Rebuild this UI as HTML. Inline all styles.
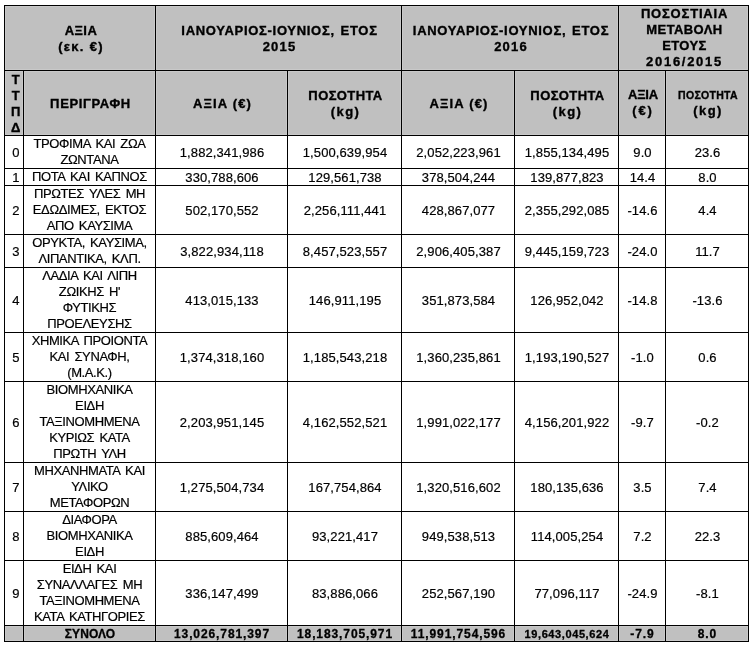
<!DOCTYPE html><html><head><meta charset="utf-8"><style>
*{margin:0;padding:0;box-sizing:border-box}
html,body{width:754px;height:647px;background:#fff;overflow:hidden}
body{position:relative;-webkit-font-smoothing:antialiased;font-family:"Liberation Sans",sans-serif;color:#000}
.c{position:absolute;will-change:transform;border:1px solid #000;display:flex;align-items:center;justify-content:center;text-align:center;line-height:16px;white-space:nowrap;overflow:hidden}
.hb{font-weight:bold;font-size:13px;letter-spacing:0.4px;-webkit-text-stroke:0.35px #000;padding-top:2px;padding-left:2px}
.bd{font-size:13px;-webkit-text-stroke:0.2px #000}
.nm{letter-spacing:0.1px;padding-top:2px;padding-left:1px}
.gr{letter-spacing:-0.4px;word-spacing:2px}
.c0{padding-left:4px}
.tb{font-weight:bold;font-size:12px;letter-spacing:0.9px;line-height:14px;-webkit-text-stroke:0.3px #000;padding-left:1px}
.ian{letter-spacing:0.7px;word-spacing:1.5px}
.yr{letter-spacing:1.2px}
.yr2{letter-spacing:1.7px}
.pct{letter-spacing:0.8px}
.ax{letter-spacing:1.1px;word-spacing:0px}
.p1{letter-spacing:1.3px;word-spacing:0px}
.kg{letter-spacing:1.4px}
.eu{letter-spacing:1.8px}
.axs{letter-spacing:-0.2px}
.per{letter-spacing:0.65px}
.sm{font-size:10.5px;letter-spacing:0.3px}
.tsm{font-size:11px;letter-spacing:0.6px}
</style></head><body>
<div class="c hb" style="left:4px;top:5px;width:152px;height:66px;background:#c0c0c0;box-shadow:inset 0 0 0 1px #c9c9c9;"><div>ΑΞΙΑ<br><span class="p1">(εκ. €)</span></div></div>
<div class="c hb" style="left:155px;top:5px;width:247px;height:66px;background:#c0c0c0;box-shadow:inset 0 0 0 1px #c9c9c9;"><div><span class="ian">ΙΑΝΟΥΑΡΙΟΣ-ΙΟΥΝΙΟΣ, ΕΤΟΣ</span><br><span class="yr">2015</span></div></div>
<div class="c hb" style="left:401px;top:5px;width:218px;height:66px;background:#c0c0c0;box-shadow:inset 0 0 0 1px #c9c9c9;"><div><span class="ian">ΙΑΝΟΥΑΡΙΟΣ-ΙΟΥΝΙΟΣ, ΕΤΟΣ</span><br><span class="yr">2016</span></div></div>
<div class="c hb" style="left:618px;top:5px;width:131px;height:66px;background:#c0c0c0;box-shadow:inset 0 0 0 1px #c9c9c9;padding-top:0;line-height:15.8px"><div><span class="pct">ΠΟΣΟΣΤΙΑΙΑ</span><br>ΜΕΤΑΒΟΛΗ<br>ΕΤΟΥΣ<br><span class="yr2">2016/2015</span></div></div>
<div class="c hb c0" style="left:4px;top:70px;width:20px;height:66px;background:#c0c0c0;box-shadow:inset 0 0 0 1px #c9c9c9;"><div>Τ<br>Τ<br>Π<br>Δ</div></div>
<div class="c hb" style="left:23px;top:70px;width:133px;height:66px;background:#c0c0c0;box-shadow:inset 0 0 0 1px #c9c9c9;"><div><span class="per">ΠΕΡΙΓΡΑΦΗ</span></div></div>
<div class="c hb" style="left:155px;top:70px;width:133px;height:66px;background:#c0c0c0;box-shadow:inset 0 0 0 1px #c9c9c9;"><div><span class="ax">ΑΞΙΑ (€)</span></div></div>
<div class="c hb" style="left:401px;top:70px;width:114px;height:66px;background:#c0c0c0;box-shadow:inset 0 0 0 1px #c9c9c9;"><div><span class="ax">ΑΞΙΑ (€)</span></div></div>
<div class="c hb" style="left:287px;top:70px;width:115px;height:66px;background:#c0c0c0;box-shadow:inset 0 0 0 1px #c9c9c9;line-height:15.5px;padding-top:1px"><div>ΠΟΣΟΤΗΤΑ<br><span class="kg">(kg)</span></div></div>
<div class="c hb" style="left:514px;top:70px;width:105px;height:66px;background:#c0c0c0;box-shadow:inset 0 0 0 1px #c9c9c9;line-height:15.5px;padding-top:1px"><div>ΠΟΣΟΤΗΤΑ<br><span class="kg">(kg)</span></div></div>
<div class="c hb" style="left:618px;top:70px;width:48px;height:66px;background:#c0c0c0;box-shadow:inset 0 0 0 1px #c9c9c9;padding-top:0"><div><span class="axs">ΑΞΙΑ</span><br><span class="eu">(€)</span></div></div>
<div class="c hb" style="left:665px;top:70px;width:84px;height:66px;background:#c0c0c0;box-shadow:inset 0 0 0 1px #c9c9c9;padding-top:0;line-height:15.5px;padding-bottom:1px"><div><span class="sm">ΠΟΣΟΤΗΤΑ</span><br><span class="kg">(kg)</span></div></div>
<div class="c bd c0 nm" style="left:4px;top:135px;width:20px;height:34px;"><div>0</div></div>
<div class="c bd gr" style="left:23px;top:135px;width:133px;height:34px;"><div>ΤΡΟΦΙΜΑ ΚΑΙ ΖΩΑ<br>ΖΩΝΤΑΝΑ</div></div>
<div class="c bd nm" style="left:155px;top:135px;width:133px;height:34px;"><div>1,882,341,986</div></div>
<div class="c bd nm" style="left:287px;top:135px;width:115px;height:34px;"><div>1,500,639,954</div></div>
<div class="c bd nm" style="left:401px;top:135px;width:114px;height:34px;"><div>2,052,223,961</div></div>
<div class="c bd nm" style="left:514px;top:135px;width:105px;height:34px;"><div>1,855,134,495</div></div>
<div class="c bd nm" style="left:618px;top:135px;width:48px;height:34px;"><div>9.0</div></div>
<div class="c bd nm" style="left:665px;top:135px;width:84px;height:34px;"><div>23.6</div></div>
<div class="c bd c0 nm" style="left:4px;top:168px;width:20px;height:18px;"><div>1</div></div>
<div class="c bd gr" style="left:23px;top:168px;width:133px;height:18px;"><div>ΠΟΤΑ ΚΑΙ ΚΑΠΝΟΣ</div></div>
<div class="c bd nm" style="left:155px;top:168px;width:133px;height:18px;"><div>330,788,606</div></div>
<div class="c bd nm" style="left:287px;top:168px;width:115px;height:18px;"><div>129,561,738</div></div>
<div class="c bd nm" style="left:401px;top:168px;width:114px;height:18px;"><div>378,504,244</div></div>
<div class="c bd nm" style="left:514px;top:168px;width:105px;height:18px;"><div>139,877,823</div></div>
<div class="c bd nm" style="left:618px;top:168px;width:48px;height:18px;"><div>14.4</div></div>
<div class="c bd nm" style="left:665px;top:168px;width:84px;height:18px;"><div>8.0</div></div>
<div class="c bd c0 nm" style="left:4px;top:185px;width:20px;height:50px;"><div>2</div></div>
<div class="c bd gr" style="left:23px;top:185px;width:133px;height:50px;"><div>ΠΡΩΤΕΣ ΥΛΕΣ ΜΗ<br>ΕΔΩΔΙΜΕΣ, ΕΚΤΟΣ<br>ΑΠΟ ΚΑΥΣΙΜΑ</div></div>
<div class="c bd nm" style="left:155px;top:185px;width:133px;height:50px;"><div>502,170,552</div></div>
<div class="c bd nm" style="left:287px;top:185px;width:115px;height:50px;"><div>2,256,111,441</div></div>
<div class="c bd nm" style="left:401px;top:185px;width:114px;height:50px;"><div>428,867,077</div></div>
<div class="c bd nm" style="left:514px;top:185px;width:105px;height:50px;"><div>2,355,292,085</div></div>
<div class="c bd nm" style="left:618px;top:185px;width:48px;height:50px;"><div>-14.6</div></div>
<div class="c bd nm" style="left:665px;top:185px;width:84px;height:50px;"><div>4.4</div></div>
<div class="c bd c0 nm" style="left:4px;top:234px;width:20px;height:34px;"><div>3</div></div>
<div class="c bd gr" style="left:23px;top:234px;width:133px;height:34px;"><div>ΟΡΥΚΤΑ, ΚΑΥΣΙΜΑ,<br>ΛΙΠΑΝΤΙΚΑ, ΚΛΠ.</div></div>
<div class="c bd nm" style="left:155px;top:234px;width:133px;height:34px;"><div>3,822,934,118</div></div>
<div class="c bd nm" style="left:287px;top:234px;width:115px;height:34px;"><div>8,457,523,557</div></div>
<div class="c bd nm" style="left:401px;top:234px;width:114px;height:34px;"><div>2,906,405,387</div></div>
<div class="c bd nm" style="left:514px;top:234px;width:105px;height:34px;"><div>9,445,159,723</div></div>
<div class="c bd nm" style="left:618px;top:234px;width:48px;height:34px;"><div>-24.0</div></div>
<div class="c bd nm" style="left:665px;top:234px;width:84px;height:34px;"><div>11.7</div></div>
<div class="c bd c0 nm" style="left:4px;top:267px;width:20px;height:66px;"><div>4</div></div>
<div class="c bd gr" style="left:23px;top:267px;width:133px;height:66px;"><div>ΛΑΔΙΑ ΚΑΙ ΛΙΠΗ<br>ΖΩΙΚΗΣ Η'<br>ΦΥΤΙΚΗΣ<br>ΠΡΟΕΛΕΥΣΗΣ</div></div>
<div class="c bd nm" style="left:155px;top:267px;width:133px;height:66px;"><div>413,015,133</div></div>
<div class="c bd nm" style="left:287px;top:267px;width:115px;height:66px;"><div>146,911,195</div></div>
<div class="c bd nm" style="left:401px;top:267px;width:114px;height:66px;"><div>351,873,584</div></div>
<div class="c bd nm" style="left:514px;top:267px;width:105px;height:66px;"><div>126,952,042</div></div>
<div class="c bd nm" style="left:618px;top:267px;width:48px;height:66px;"><div>-14.8</div></div>
<div class="c bd nm" style="left:665px;top:267px;width:84px;height:66px;"><div>-13.6</div></div>
<div class="c bd c0 nm" style="left:4px;top:332px;width:20px;height:50px;"><div>5</div></div>
<div class="c bd gr" style="left:23px;top:332px;width:133px;height:50px;"><div>ΧΗΜΙΚΑ ΠΡΟΙΟΝΤΑ<br>ΚΑΙ ΣΥΝΑΦΗ,<br>(Μ.Α.Κ.)</div></div>
<div class="c bd nm" style="left:155px;top:332px;width:133px;height:50px;"><div>1,374,318,160</div></div>
<div class="c bd nm" style="left:287px;top:332px;width:115px;height:50px;"><div>1,185,543,218</div></div>
<div class="c bd nm" style="left:401px;top:332px;width:114px;height:50px;"><div>1,360,235,861</div></div>
<div class="c bd nm" style="left:514px;top:332px;width:105px;height:50px;"><div>1,193,190,527</div></div>
<div class="c bd nm" style="left:618px;top:332px;width:48px;height:50px;"><div>-1.0</div></div>
<div class="c bd nm" style="left:665px;top:332px;width:84px;height:50px;"><div>0.6</div></div>
<div class="c bd c0 nm" style="left:4px;top:381px;width:20px;height:82px;"><div>6</div></div>
<div class="c bd gr" style="left:23px;top:381px;width:133px;height:82px;"><div>ΒΙΟΜΗΧΑΝΙΚΑ<br>ΕΙΔΗ<br>ΤΑΞΙΝΟΜΗΜΕΝΑ<br>ΚΥΡΙΩΣ ΚΑΤΑ<br>ΠΡΩΤΗ ΥΛΗ</div></div>
<div class="c bd nm" style="left:155px;top:381px;width:133px;height:82px;"><div>2,203,951,145</div></div>
<div class="c bd nm" style="left:287px;top:381px;width:115px;height:82px;"><div>4,162,552,521</div></div>
<div class="c bd nm" style="left:401px;top:381px;width:114px;height:82px;"><div>1,991,022,177</div></div>
<div class="c bd nm" style="left:514px;top:381px;width:105px;height:82px;"><div>4,156,201,922</div></div>
<div class="c bd nm" style="left:618px;top:381px;width:48px;height:82px;"><div>-9.7</div></div>
<div class="c bd nm" style="left:665px;top:381px;width:84px;height:82px;"><div>-0.2</div></div>
<div class="c bd c0 nm" style="left:4px;top:462px;width:20px;height:50px;"><div>7</div></div>
<div class="c bd gr" style="left:23px;top:462px;width:133px;height:50px;"><div>ΜΗΧΑΝΗΜΑΤΑ ΚΑΙ<br>ΥΛΙΚΟ<br>ΜΕΤΑΦΟΡΩΝ</div></div>
<div class="c bd nm" style="left:155px;top:462px;width:133px;height:50px;"><div>1,275,504,734</div></div>
<div class="c bd nm" style="left:287px;top:462px;width:115px;height:50px;"><div>167,754,864</div></div>
<div class="c bd nm" style="left:401px;top:462px;width:114px;height:50px;"><div>1,320,516,602</div></div>
<div class="c bd nm" style="left:514px;top:462px;width:105px;height:50px;"><div>180,135,636</div></div>
<div class="c bd nm" style="left:618px;top:462px;width:48px;height:50px;"><div>3.5</div></div>
<div class="c bd nm" style="left:665px;top:462px;width:84px;height:50px;"><div>7.4</div></div>
<div class="c bd c0 nm" style="left:4px;top:511px;width:20px;height:50px;"><div>8</div></div>
<div class="c bd gr" style="left:23px;top:511px;width:133px;height:50px;"><div>ΔΙΑΦΟΡΑ<br>ΒΙΟΜΗΧΑΝΙΚΑ<br>ΕΙΔΗ</div></div>
<div class="c bd nm" style="left:155px;top:511px;width:133px;height:50px;"><div>885,609,464</div></div>
<div class="c bd nm" style="left:287px;top:511px;width:115px;height:50px;"><div>93,221,417</div></div>
<div class="c bd nm" style="left:401px;top:511px;width:114px;height:50px;"><div>949,538,513</div></div>
<div class="c bd nm" style="left:514px;top:511px;width:105px;height:50px;"><div>114,005,254</div></div>
<div class="c bd nm" style="left:618px;top:511px;width:48px;height:50px;"><div>7.2</div></div>
<div class="c bd nm" style="left:665px;top:511px;width:84px;height:50px;"><div>22.3</div></div>
<div class="c bd c0 nm" style="left:4px;top:560px;width:20px;height:66px;"><div>9</div></div>
<div class="c bd gr" style="left:23px;top:560px;width:133px;height:66px;"><div>ΕΙΔΗ ΚΑΙ<br>ΣΥΝΑΛΛΑΓΕΣ ΜΗ<br>ΤΑΞΙΝΟΜΗΜΕΝΑ<br>ΚΑΤΑ ΚΑΤΗΓΟΡΙΕΣ</div></div>
<div class="c bd nm" style="left:155px;top:560px;width:133px;height:66px;"><div>336,147,499</div></div>
<div class="c bd nm" style="left:287px;top:560px;width:115px;height:66px;"><div>83,886,066</div></div>
<div class="c bd nm" style="left:401px;top:560px;width:114px;height:66px;"><div>252,567,190</div></div>
<div class="c bd nm" style="left:514px;top:560px;width:105px;height:66px;"><div>77,096,117</div></div>
<div class="c bd nm" style="left:618px;top:560px;width:48px;height:66px;"><div>-24.9</div></div>
<div class="c bd nm" style="left:665px;top:560px;width:84px;height:66px;"><div>-8.1</div></div>
<div class="c tb" style="left:4px;top:625px;width:20px;height:17px;background:#c0c0c0;box-shadow:inset 0 0 0 1px #c9c9c9;"><div></div></div>
<div class="c tb" style="left:23px;top:625px;width:133px;height:17px;background:#c0c0c0;box-shadow:inset 0 0 0 1px #c9c9c9;"><div><span style="letter-spacing:0.1px">ΣΥΝΟΛΟ</span></div></div>
<div class="c tb" style="left:155px;top:625px;width:133px;height:17px;background:#c0c0c0;box-shadow:inset 0 0 0 1px #c9c9c9;"><div>13,026,781,397</div></div>
<div class="c tb" style="left:287px;top:625px;width:115px;height:17px;background:#c0c0c0;box-shadow:inset 0 0 0 1px #c9c9c9;"><div>18,183,705,971</div></div>
<div class="c tb" style="left:401px;top:625px;width:114px;height:17px;background:#c0c0c0;box-shadow:inset 0 0 0 1px #c9c9c9;"><div>11,991,754,596</div></div>
<div class="c tb" style="left:514px;top:625px;width:105px;height:17px;background:#c0c0c0;box-shadow:inset 0 0 0 1px #c9c9c9;"><div><span class="tsm">19,643,045,624</span></div></div>
<div class="c tb" style="left:618px;top:625px;width:48px;height:17px;background:#c0c0c0;box-shadow:inset 0 0 0 1px #c9c9c9;"><div>-7.9</div></div>
<div class="c tb" style="left:665px;top:625px;width:84px;height:17px;background:#c0c0c0;box-shadow:inset 0 0 0 1px #c9c9c9;"><div>8.0</div></div>
</body></html>
